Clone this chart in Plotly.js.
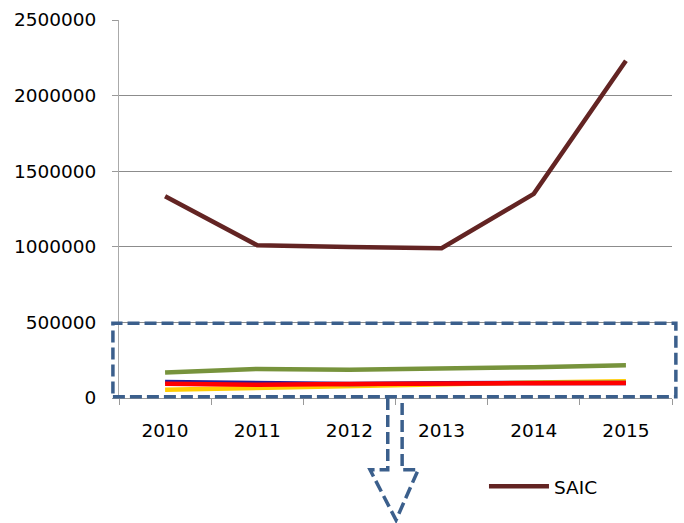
<!DOCTYPE html>
<html><head><meta charset="utf-8">
<script src="https://cdn.plot.ly/plotly-3.0.1.min.js"></script>
<style>html,body{margin:0;padding:0;background:#fff}#chart{width:684px;height:523px}</style>
</head><body><div id="chart"></div>
<script>
const years = ["2010","2011","2012","2013","2014","2015"];
const saic = [1335000, 1010000, 998000, 990000, 1350000, 2230000];
const green = [168000, 192000, 187000, 192000, 204000, 216000];
const yellow = [55000, 68000, 80000, 95000, 102000, 110000];
const blue = [105000, 96000, 93000, 98000, 99000, 100000];
const red = [95000, 88000, 92000, 97000, 98000, 99000];
const yTicks = [0, 500000, 1000000, 1500000, 2000000, 2500000];

const fnt = {family: "DejaVu Sans, sans-serif", size: 18.5, color: "#000"};
function tr(y, color, name, show) {
  return {x: years, y: y, type: "scatter", mode: "lines", name: name, showlegend: show,
          line: {color: color, width: 4.5}, hoverinfo: "skip"};
}
const data = [
  tr(green, "#77933c", "g", false),
  tr(yellow, "#ffcc00", "y", false),
  tr(blue, "#1f1f9f", "b", false),
  tr(red, "#ff0000", "r", false),
  tr(saic, "#632423", "SAIC", true)
];
const dashCol = "#3b5f8c";
const layout = {
  width: 684, height: 523,
  margin: {l: 119, r: 12, t: 20, b: 125},
  paper_bgcolor: "#fff", plot_bgcolor: "#fff",
  font: fnt,
  showlegend: true,
  legend: {x: 0.66, y: -0.235, xanchor: "left", yanchor: "middle", font: fnt, bgcolor: "rgba(0,0,0,0)", itemwidth: 60},
  xaxis: {type: "category", range: [-0.5, 5.5], tickson: "boundaries", ticks: "outside", ticklen: 6,
          tickcolor: "#999", showline: true, linecolor: "#999", linewidth: 1, showgrid: false,
          zeroline: false, tickfont: fnt, ticklabelstandoff: 16},
  yaxis: {range: [0, 2500000], tickvals: yTicks, ticktext: yTicks.map(String), ticks: "outside", ticklen: 6,
          tickcolor: "#999", showline: true, linecolor: "#aaa", linewidth: 1, gridcolor: "#8c8c8c",
          gridwidth: 1, zeroline: false, tickfont: fnt, ticklabelstandoff: 12},
  shapes: [
    {type: "rect", xref: "paper", yref: "paper", x0: -0.011, x1: 1.007, y0: 0.003, y1: 0.198,
     line: {color: dashCol, width: 3.5, dash: "12px,5px"}},
    {type: "path", xref: "paper", yref: "paper",
     path: "M0.486,0 L0.486,-0.19 L0.454,-0.19 L0.501,-0.323 L0.541,-0.19 L0.512,-0.19 L0.512,0",
     line: {color: dashCol, width: 3.5, dash: "12px,5px"}}
  ]
};
Plotly.newPlot("chart", data, layout, {displayModeBar: false, staticPlot: true});
</script></body></html>
